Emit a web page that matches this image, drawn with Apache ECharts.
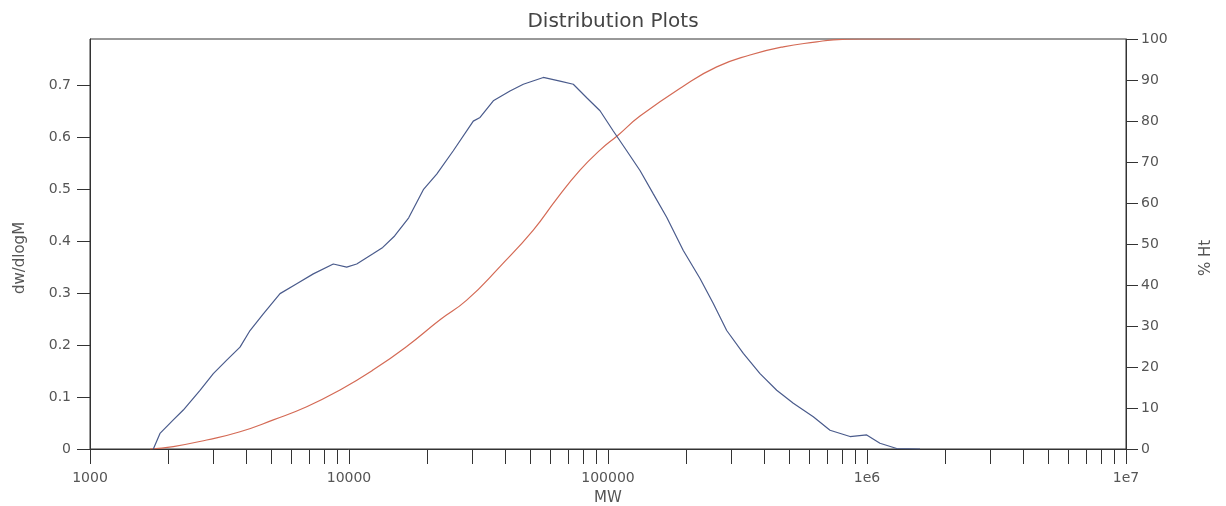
<!DOCTYPE html>
<html>
<head>
<meta charset="utf-8">
<script src="https://cdn.jsdelivr.net/npm/echarts@6/dist/echarts.min.js"></script>
<style>
html,body{margin:0;padding:0;background:#fff;}
#chart{width:1226px;height:506px;}
</style>
</head>
<body>
<div id="chart"></div>
<script>
// ---- data ----
const blueMW = [1756, 1863, 2097, 2292, 2659, 2993, 3372, 3795, 4148, 4668, 5416, 6283, 7281, 8698, 9797, 10709, 12414, 13500, 15000, 17000, 19364, 21810, 25270, 30190, 32060, 36070, 41840, 47100, 56260, 65270, 73450, 82760, 93140, 104800, 118100, 132900, 149600, 168500, 195300, 226600, 255000, 287300, 333000, 386300, 448100, 519400, 620300, 719700, 859900, 997300, 1122000, 1302000, 1602000];
const blueVal = [0, 0.03, 0.056, 0.075, 0.113, 0.145, 0.171, 0.196, 0.228, 0.26, 0.299, 0.318, 0.337, 0.356, 0.35, 0.356, 0.376, 0.388, 0.41, 0.445, 0.499, 0.529, 0.574, 0.631, 0.638, 0.67, 0.689, 0.702, 0.715, 0.708, 0.702, 0.676, 0.651, 0.612, 0.574, 0.536, 0.491, 0.446, 0.382, 0.328, 0.28, 0.228, 0.184, 0.145, 0.113, 0.088, 0.062, 0.036, 0.024, 0.027, 0.011, 0.001, 0];
const redMW = [1705, 2097, 2822, 3795, 5103, 6866, 9233, 12414, 16700, 22460, 28480, 38280, 51470, 63390, 77970, 93140, 109600, 132900, 195300, 262900, 353400, 475100, 639300, 741300, 939700, 1602000];
const redVal = [0, 0.6, 2.2, 4.2, 7.1, 10.3, 14.4, 19.3, 25, 31.5, 36.3, 44.5, 53.4, 61, 68, 72.9, 76.6, 81.2, 88.5, 93.2, 96.1, 98.1, 99.3, 99.8, 100, 100];
const xTickValues = [1000,2000,3000,4000,5000,6000,7000,8000,9000,
  10000,20000,30000,40000,50000,60000,70000,80000,90000,
  100000,200000,300000,400000,500000,600000,700000,800000,900000,
  1000000,2000000,3000000,4000000,5000000,6000000,7000000,8000000,9000000,10000000];
const xLabelValues = [1000, 10000, 100000, 1000000, 10000000];
const leftTicks = [0, 0.1, 0.2, 0.3, 0.4, 0.5, 0.6, 0.7];

const FONT = 'DejaVu Sans';
const LABEL = '#555';
const LINE = '#333';

const chart = echarts.init(document.getElementById('chart'), null, {renderer: 'canvas'});
chart.setOption({
  animation: false,
  backgroundColor: '#fff',
  title: {
    text: 'Distribution Plots',
    left: 'center',
    top: 7,
    textStyle: {fontFamily: FONT, fontSize: 20, fontWeight: 'normal', color: '#444'}
  },
  grid: {left: 90, right: 100, top: 39, bottom: 57, outerBoundsMode: 'none', containLabel: false,
    show: true, borderColor: LINE, borderWidth: 1, backgroundColor: 'transparent'},
  xAxis: {
    type: 'log',
    min: 1000,
    max: 10000000,
    name: 'MW',
    nameLocation: 'middle',
    nameGap: 42,
    nameTextStyle: {fontFamily: FONT, fontSize: 15, color: LABEL},
    axisLine: {show: true, lineStyle: {color: LINE, width: 1}},
    axisTick: {show: true, length: 15, customValues: xTickValues, lineStyle: {color: LINE, width: 1}},
    minorTick: {show: false},
    splitLine: {show: false},
    axisLabel: {
      customValues: xLabelValues,
      margin: 22,
      fontFamily: FONT, fontSize: 14, color: LABEL,
      formatter: function (v) {
        if (v >= 1000000) return '1e' + Math.round(Math.log10(v));
        return String(Math.round(v));
      }
    }
  },
  yAxis: [{
    type: 'value',
    min: 0,
    max: 0.789,
    position: 'left',
    name: 'dw/dlogM',
    nameLocation: 'middle',
    nameGap: 62,
    nameRotate: 90,
    nameTextStyle: {fontFamily: FONT, fontSize: 15, color: LABEL, padding: [0, 28, 0, 0]},
    axisLine: {show: true, lineStyle: {color: LINE, width: 1}},
    axisTick: {show: true, length: 13, customValues: leftTicks, lineStyle: {color: LINE, width: 1}},
    splitLine: {show: false},
    axisLabel: {customValues: leftTicks, margin: 19, fontFamily: FONT, fontSize: 14, color: LABEL,
      formatter: function (v) { return v === 0 ? '0' : v.toFixed(1); }}
  }, {
    type: 'value',
    min: 0,
    max: 100,
    interval: 10,
    position: 'right',
    name: '% Ht',
    nameLocation: 'middle',
    nameGap: 73,
    nameRotate: 90,
    nameTextStyle: {fontFamily: FONT, fontSize: 15, color: LABEL, padding: [0, 28, 0, 0]},
    axisLine: {show: true, lineStyle: {color: LINE, width: 1}},
    axisTick: {show: true, length: 12, lineStyle: {color: LINE, width: 1}},
    splitLine: {show: false},
    axisLabel: {margin: 15, fontFamily: FONT, fontSize: 14, color: LABEL}
  }],
  series: [{
    name: 'dw/dlogM',
    type: 'line',
    yAxisIndex: 0,
    data: blueMW.map((m, i) => [m, blueVal[i]]),
    showSymbol: false,
    smooth: false,
    lineStyle: {color: '#4a5b8c', width: 1.2},
    itemStyle: {color: '#4a5b8c'},
    z: 3
  }, {
    name: '% Ht',
    type: 'line',
    yAxisIndex: 1,
    data: redMW.map((m, i) => [m, redVal[i]]),
    showSymbol: false,
    smooth: true,
    lineStyle: {color: '#d46a55', width: 1.2},
    itemStyle: {color: '#d46a55'},
    z: 2
  }]
});
</script>
</body>
</html>
